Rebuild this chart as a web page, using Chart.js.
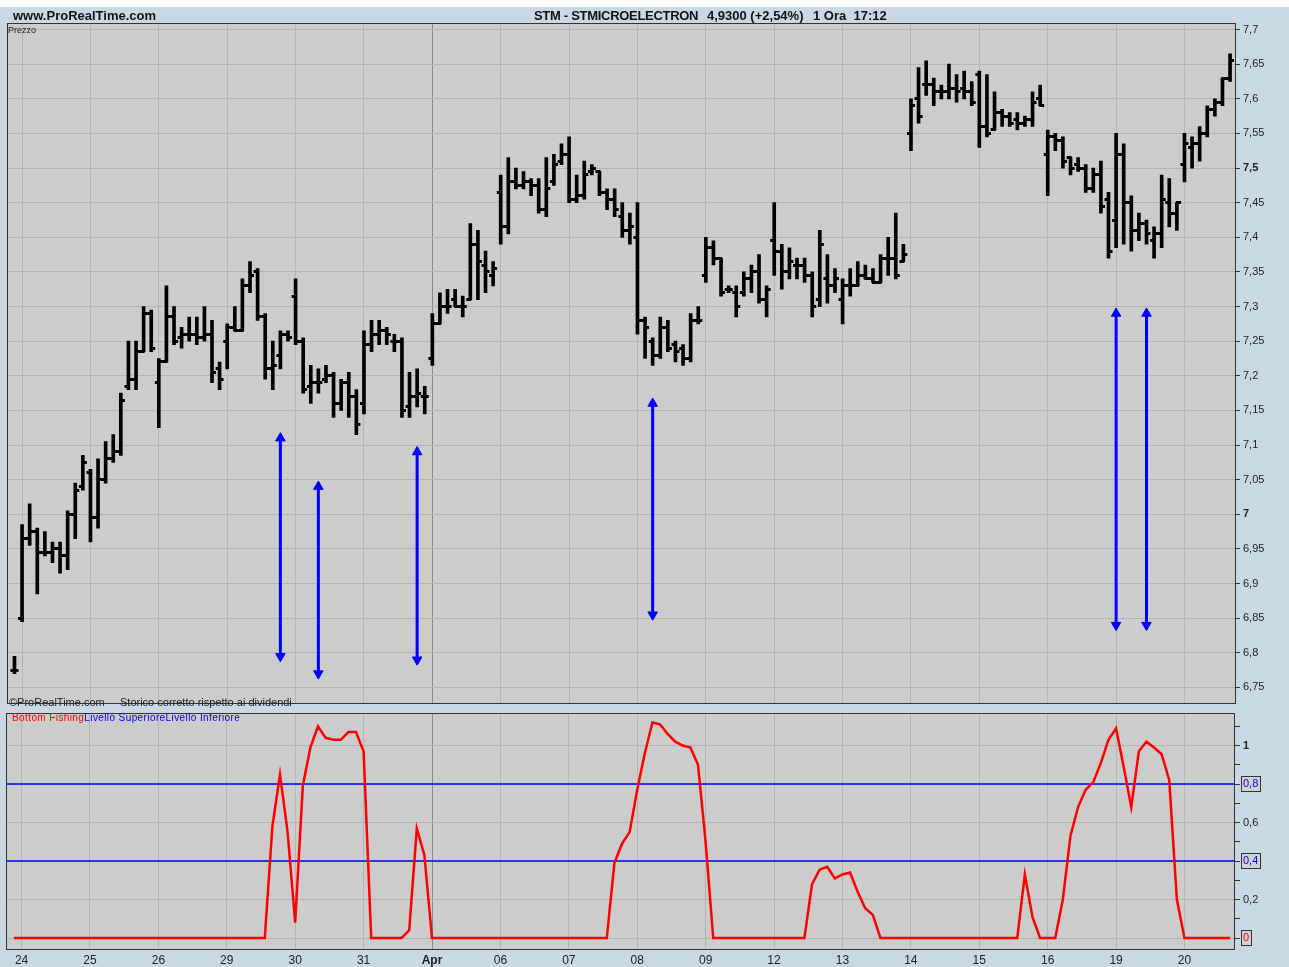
<!DOCTYPE html>
<html>
<head>
<meta charset="utf-8">
<title>STM - STMICROELECTRON 1 Ora</title>
<script src="https://cdn.jsdelivr.net/npm/chart.js@4.4.1/dist/chart.umd.min.js"></script>
<style>
  html, body { margin: 0; padding: 0; background: #c9d9e4; }
  #pagina { position: relative; width: 1289px; height: 967px; overflow: hidden; background: #c9d9e4; font-family: "Liberation Sans", Arial, sans-serif; }
  #striscia { position: absolute; left: 0; top: 0; width: 1289px; height: 7px; background: #ffffff; }
  canvas { position: absolute; left: 0; }
  #prezzo { top: 0; }
  #indicatore { top: 710px; }
  .testo { position: absolute; white-space: nowrap; color: #111; line-height: 1; }
</style>
</head>
<body>
<div id="pagina">
  <div id="striscia"></div>
  <canvas id="prezzo" width="1289" height="710"></canvas>
  <canvas id="indicatore" width="1289" height="257"></canvas>

  <div class="testo" style="left:13px;top:9px;font-size:13px;font-weight:bold">www.ProRealTime.com</div>
  <div class="testo" style="left:534px;top:9px;font-size:13px;font-weight:bold;letter-spacing:-0.3px">STM - STMICROELECTRON</div>
  <div class="testo" style="left:707px;top:9px;font-size:13px;font-weight:bold">4,9300 (+2,54%)</div>
  <div class="testo" style="left:813px;top:9px;font-size:13px;font-weight:bold">1 Ora&nbsp;&nbsp;17:12</div>
  <div class="testo" style="left:8px;top:26px;font-size:9px;color:#222">Prezzo</div>
  <div class="testo" style="left:9px;top:697px;font-size:11px;color:#222">©ProRealTime.com</div>
  <div class="testo" style="left:120px;top:697px;font-size:11px;color:#222">Storico corretto rispetto ai dividendi</div>
  <div class="testo" style="left:12px;top:713px;font-size:10px;letter-spacing:0.4px">
    <span style="color:#ff0000">Bottom Fishing</span><span style="color:#0000ff">Livello Superiore</span><span style="color:#0000ff">Livello Inferiore</span>
  </div>
</div>

<script>
// giornate di contrattazione: etichetta e indice della prima barra oraria
const giorni = ['24', '25', '26', '29', '30', '31', 'Apr', '06', '07', '08', '09', '12', '13', '14', '15', '16', '19', '20'];
const inizioGiorno = [1, 10, 19, 28, 37, 46, 55, 64, 73, 82, 91, 100, 109, 118, 127, 136, 145, 154];

// barre orarie (la prima e' l'ultima ora della seduta del 23)
const apertura = [
  6.775,
  6.85, 6.965, 6.975, 6.945, 6.945, 6.95, 6.94, 7.0, 7.04,
  7.06, 6.995, 7.05, 7.08, 7.09, 7.185, 7.195, 7.235, 7.29,
  7.19, 7.22, 7.285, 7.255, 7.26, 7.26, 7.255, 7.26, 7.21,
  7.25, 7.27, 7.265, 7.33, 7.35, 7.285, 7.21, 7.23, 7.26,
  7.315, 7.25, 7.185, 7.19, 7.195, 7.2, 7.16, 7.19, 7.17,
  7.16, 7.245, 7.26, 7.265, 7.25, 7.25, 7.155, 7.17, 7.17,
  7.225, 7.275, 7.3, 7.31, 7.3, 7.31, 7.39, 7.36, 7.345,
  7.465, 7.415, 7.48, 7.475, 7.48, 7.475, 7.44, 7.48, 7.51,
  7.52, 7.455, 7.46, 7.495, 7.495, 7.465, 7.455, 7.43, 7.41,
  7.4, 7.28, 7.25, 7.23, 7.27, 7.245, 7.24, 7.225, 7.28,
  7.345, 7.385, 7.37, 7.325, 7.32, 7.32, 7.34, 7.35, 7.31,
  7.395, 7.38, 7.35, 7.36, 7.36, 7.345, 7.31, 7.34, 7.33,
  7.31, 7.33, 7.33, 7.345, 7.34, 7.335, 7.37, 7.37, 7.365,
  7.55, 7.6, 7.62, 7.62, 7.61, 7.61, 7.615, 7.615, 7.61,
  7.635, 7.56, 7.555, 7.58, 7.575, 7.57, 7.565, 7.57, 7.6,
  7.52, 7.545, 7.54, 7.515, 7.505, 7.5, 7.47, 7.49, 7.455,
  7.425, 7.52, 7.45, 7.41, 7.42, 7.395, 7.405, 7.45, 7.435,
  7.505, 7.53, 7.535, 7.55, 7.585, 7.595, 7.63
];
const massimo = [
  6.795,
  6.985, 7.015, 6.98, 6.975, 6.96, 6.96, 7.005, 7.045, 7.085,
  7.065, 7.08, 7.105, 7.115, 7.175, 7.25, 7.25, 7.3, 7.295,
  7.225, 7.33, 7.3, 7.27, 7.285, 7.285, 7.3, 7.28, 7.22,
  7.275, 7.3, 7.34, 7.365, 7.355, 7.29, 7.25, 7.265, 7.265,
  7.34, 7.255, 7.215, 7.21, 7.215, 7.205, 7.195, 7.205, 7.18,
  7.265, 7.28, 7.28, 7.27, 7.26, 7.255, 7.205, 7.21, 7.185,
  7.29, 7.32, 7.325, 7.325, 7.315, 7.42, 7.41, 7.38, 7.365,
  7.49, 7.515, 7.5, 7.495, 7.485, 7.485, 7.515, 7.52, 7.535,
  7.545, 7.49, 7.51, 7.505, 7.495, 7.47, 7.47, 7.45, 7.435,
  7.45, 7.285, 7.255, 7.285, 7.28, 7.25, 7.245, 7.29, 7.3,
  7.4, 7.395, 7.37, 7.33, 7.33, 7.35, 7.36, 7.375, 7.33,
  7.45, 7.39, 7.385, 7.37, 7.37, 7.35, 7.41, 7.375, 7.355,
  7.34, 7.355, 7.365, 7.36, 7.355, 7.375, 7.4, 7.435, 7.39,
  7.6, 7.645, 7.655, 7.63, 7.62, 7.65, 7.635, 7.64, 7.625,
  7.64, 7.635, 7.61, 7.585, 7.58, 7.58, 7.575, 7.61, 7.62,
  7.555, 7.55, 7.545, 7.515, 7.515, 7.505, 7.5, 7.51, 7.465,
  7.55, 7.535, 7.46, 7.435, 7.425, 7.415, 7.49, 7.485, 7.45,
  7.55, 7.545, 7.56, 7.59, 7.6, 7.63, 7.665
];
const minimo = [
  6.77,
  6.845, 6.955, 6.885, 6.94, 6.93, 6.915, 6.92, 6.965, 7.035,
  6.96, 6.98, 7.045, 7.075, 7.085, 7.18, 7.18, 7.235, 7.235,
  7.125, 7.22, 7.245, 7.24, 7.25, 7.245, 7.25, 7.19, 7.18,
  7.21, 7.265, 7.265, 7.32, 7.28, 7.195, 7.18, 7.21, 7.25,
  7.245, 7.175, 7.16, 7.175, 7.19, 7.14, 7.15, 7.14, 7.115,
  7.145, 7.235, 7.245, 7.245, 7.235, 7.14, 7.14, 7.155, 7.145,
  7.215, 7.275, 7.29, 7.3, 7.285, 7.31, 7.31, 7.32, 7.33,
  7.39, 7.405, 7.47, 7.47, 7.46, 7.435, 7.43, 7.475, 7.505,
  7.45, 7.45, 7.455, 7.49, 7.46, 7.44, 7.43, 7.4, 7.39,
  7.26, 7.225, 7.215, 7.225, 7.235, 7.22, 7.215, 7.22, 7.275,
  7.335, 7.36, 7.315, 7.32, 7.285, 7.315, 7.32, 7.305, 7.285,
  7.345, 7.325, 7.34, 7.34, 7.335, 7.285, 7.3, 7.305, 7.32,
  7.275, 7.315, 7.33, 7.34, 7.335, 7.335, 7.345, 7.34, 7.365,
  7.525, 7.565, 7.605, 7.59, 7.6, 7.6, 7.595, 7.6, 7.59,
  7.53, 7.545, 7.555, 7.56, 7.56, 7.555, 7.56, 7.56, 7.59,
  7.46, 7.525, 7.5, 7.49, 7.495, 7.465, 7.465, 7.435, 7.37,
  7.385, 7.39, 7.38, 7.395, 7.39, 7.37, 7.385, 7.415, 7.41,
  7.48, 7.5, 7.51, 7.545, 7.575, 7.59, 7.625
];
const chiusura = [
  6.775,
  6.965, 6.975, 6.945, 6.945, 6.95, 6.94, 7.0, 7.035, 7.075,
  6.995, 7.05, 7.08, 7.09, 7.165, 7.195, 7.235, 7.29, 7.24,
  7.22, 7.285, 7.25, 7.26, 7.26, 7.255, 7.26, 7.205, 7.195,
  7.27, 7.265, 7.33, 7.345, 7.285, 7.21, 7.215, 7.26, 7.255,
  7.25, 7.18, 7.19, 7.19, 7.2, 7.16, 7.19, 7.17, 7.13,
  7.245, 7.26, 7.265, 7.26, 7.25, 7.15, 7.17, 7.175, 7.17,
  7.275, 7.3, 7.3, 7.3, 7.3, 7.39, 7.365, 7.35, 7.355,
  7.415, 7.48, 7.475, 7.48, 7.475, 7.44, 7.47, 7.505, 7.52,
  7.455, 7.46, 7.49, 7.5, 7.465, 7.455, 7.44, 7.41, 7.415,
  7.28, 7.27, 7.23, 7.27, 7.24, 7.235, 7.225, 7.28, 7.28,
  7.385, 7.37, 7.32, 7.325, 7.3, 7.34, 7.35, 7.31, 7.325,
  7.38, 7.35, 7.365, 7.36, 7.345, 7.3, 7.39, 7.33, 7.34,
  7.33, 7.33, 7.345, 7.34, 7.335, 7.37, 7.37, 7.345, 7.375,
  7.59, 7.575, 7.62, 7.61, 7.61, 7.615, 7.61, 7.61, 7.595,
  7.56, 7.55, 7.58, 7.575, 7.565, 7.565, 7.57, 7.595, 7.59,
  7.545, 7.54, 7.51, 7.5, 7.5, 7.47, 7.49, 7.445, 7.38,
  7.52, 7.45, 7.41, 7.42, 7.405, 7.405, 7.455, 7.435, 7.45,
  7.535, 7.535, 7.55, 7.585, 7.595, 7.63, 7.655
];

// indicatore Bottom Fishing, un valore per barra
const bottomFishing = [
  0,
  0, 0, 0, 0, 0, 0, 0, 0, 0,
  0, 0, 0, 0, 0, 0, 0, 0, 0,
  0, 0, 0, 0, 0, 0, 0, 0, 0,
  0, 0, 0, 0, 0, 0, 0.58, 0.85, 0.55,
  0.08, 0.79, 0.99, 1.10, 1.04, 1.03, 1.03, 1.07, 1.07,
  0.97, 0, 0, 0, 0, 0, 0.04, 0.57, 0.43,
  0, 0, 0, 0, 0, 0, 0, 0, 0,
  0, 0, 0, 0, 0, 0, 0, 0, 0,
  0, 0, 0, 0, 0, 0, 0.39, 0.49, 0.55,
  0.77, 0.96, 1.12, 1.11, 1.06, 1.02, 1.0, 0.99, 0.9,
  0.5, 0, 0, 0, 0, 0, 0, 0, 0,
  0, 0, 0, 0, 0, 0.28, 0.355, 0.37, 0.31,
  0.33, 0.34, 0.24, 0.155, 0.12, 0, 0, 0, 0,
  0, 0, 0, 0, 0, 0, 0, 0, 0,
  0, 0, 0, 0, 0, 0, 0.33, 0.11, 0,
  0, 0, 0.2, 0.53, 0.68, 0.77, 0.81, 0.91, 1.03,
  1.09, 0.89, 0.68, 0.97, 1.02, 0.99, 0.955, 0.82, 0.2,
  0, 0, 0, 0, 0, 0, 0
];
const livelloSuperiore = 0.8;
const livelloInferiore = 0.4;

// segnali: barra, estremo alto e basso della freccia
const frecciaBarra = [35, 40, 53, 84, 145, 149];
const frecciaAlto = [7.11, 7.04, 7.09, 7.16, 7.29, 7.29];
const frecciaBasso = [6.795, 6.77, 6.79, 6.855, 6.84, 6.84];

const tickPrezzo = [6.75, 6.8, 6.85, 6.9, 6.95, 7.0, 7.05, 7.1, 7.15, 7.2, 7.25, 7.3, 7.35, 7.4, 7.45, 7.5, 7.55, 7.6, 7.65, 7.7];
const tickIndicatore = [0, 0.1, 0.2, 0.3, 0.4, 0.5, 0.6, 0.7, 0.8, 0.9, 1.0, 1.1];

const xMin = -1.05, xMax = 160.65;
const font = '"Liberation Sans", Arial, sans-serif';
const grigliaColore = '#b4b4b4';
Chart.defaults.font.family = font;

function virgola(v) {
  return String(+v.toFixed(2)).replace('.', ',');
}

// tacche di apertura (a sinistra) e chiusura (a destra)
function tacca(lato) {
  const c = document.createElement('canvas');
  c.width = 12;
  c.height = 3;
  const g = c.getContext('2d');
  g.fillStyle = '#000';
  if (lato === 'sx') g.fillRect(2, 0, 5, 3);
  else g.fillRect(5, 0, 5, 3);
  return c;
}

const pannello = {
  id: 'pannello',
  beforeDraw(chart) {
    const { ctx, chartArea: a } = chart;
    ctx.save();
    ctx.fillStyle = '#cccccc';
    ctx.fillRect(a.left, a.top, a.width, a.height);
    ctx.restore();
  },
  afterDraw(chart) {
    const { ctx, chartArea: a } = chart;
    ctx.save();
    ctx.strokeStyle = '#333';
    ctx.lineWidth = 1;
    ctx.strokeRect(Math.round(a.left) + 0.5, Math.round(a.top) + 0.5, Math.round(a.width) - 1, Math.round(a.height) - 1);
    ctx.restore();
  }
};

function assex(mostraEtichette) {
  return {
    type: 'linear',
    min: xMin,
    max: xMax,
    offset: false,
    border: { display: false },
    grid: {
      offset: false,
      drawTicks: false,
      color: ctx => (ctx.tick && ctx.tick.value === 55 ? '#8a8a8a' : grigliaColore)
    },
    ticks: {
      display: mostraEtichette,
      autoSkip: false,
      maxRotation: 0,
      padding: 3,
      color: '#222',
      font: ctx => ({ family: font, size: 12, weight: ctx.tick && ctx.tick.value === 55 ? 'bold' : 'normal' }),
      callback: v => giorni[inizioGiorno.indexOf(v)]
    },
    afterBuildTicks: s => { s.ticks = inizioGiorno.map(v => ({ value: v })); },
    afterFit: s => {
      s.height = mostraEtichette ? 17 : 0;
      s.paddingLeft = 0;
      s.paddingRight = 0;
    }
  };
}

// pannello prezzi: barre OHLC e frecce dei segnali
const frecce = frecciaBarra.map((b, k) => ({
  type: 'line',
  data: [{ x: b, y: frecciaAlto[k] }, { x: b, y: frecciaBasso[k] }],
  borderColor: '#0000ff',
  borderWidth: 3,
  pointStyle: 'triangle',
  pointRadius: 5.5,
  pointRotation: [0, 180],
  pointBackgroundColor: '#0000ff',
  pointBorderColor: '#0000ff',
  pointBorderWidth: 1
}));

new Chart(document.getElementById('prezzo'), {
  type: 'bar',
  data: {
    datasets: [
      ...frecce,
      {
        type: 'line',
        data: apertura.map((v, i) => ({ x: i, y: v })),
        showLine: false,
        pointStyle: tacca('sx'),
        pointRadius: 3
      },
      {
        type: 'line',
        data: chiusura.map((v, i) => ({ x: i, y: v })),
        showLine: false,
        pointStyle: tacca('dx'),
        pointRadius: 3
      },
      {
        type: 'bar',
        data: massimo.map((h, i) => ({ x: i, y: [minimo[i], h] })),
        backgroundColor: '#000',
        borderWidth: 0,
        barThickness: 3,
        grouped: false
      }
    ]
  },
  options: {
    responsive: false,
    animation: false,
    events: [],
    layout: { padding: { left: 6, top: 23, right: 0, bottom: 2 } },
    plugins: { legend: { display: false }, tooltip: { enabled: false } },
    scales: {
      x: assex(false),
      y: {
        position: 'right',
        min: 6.7268,
        max: 7.7095,
        border: { display: false },
        grid: { color: grigliaColore, tickColor: '#333', tickLength: 5 },
        ticks: {
          padding: 3,
          color: '#222',
          autoSkip: false,
          font: ctx => ({ family: font, size: 11, weight: ctx.tick && (ctx.tick.value === 7 || ctx.tick.value === 7.5) ? 'bold' : 'normal' }),
          callback: v => virgola(v)
        },
        afterBuildTicks: s => { s.ticks = tickPrezzo.map(v => ({ value: v })); },
        afterFit: s => { s.width = 54; s.paddingTop = 0; s.paddingBottom = 0; }
      }
    }
  },
  plugins: [pannello]
});

// pannello indicatore
const etichetteRiquadrate = [livelloSuperiore, livelloInferiore, 0];
const riquadri = {
  id: 'riquadri',
  afterDraw(chart) {
    const s = chart.scales.y;
    const ctx = chart.ctx;
    ctx.save();
    ctx.font = '11px ' + font;
    ctx.strokeStyle = '#333';
    ctx.lineWidth = 1;
    etichetteRiquadrate.forEach(v => {
      const w = ctx.measureText(virgola(v)).width;
      const y = Math.round(s.getPixelForValue(v));
      ctx.strokeRect(s.left + 6.5, y - 7.5, Math.round(w) + 4, 15);
    });
    ctx.restore();
  }
};

const dieci = v => Math.round(v * 10);

new Chart(document.getElementById('indicatore'), {
  type: 'line',
  data: {
    datasets: [
      {
        label: 'Bottom Fishing',
        data: bottomFishing.map((v, i) => ({ x: i, y: v })),
        borderColor: '#ff0000',
        borderWidth: 2.5,
        pointRadius: 0,
        tension: 0
      },
      {
        label: 'Livello Superiore',
        data: [{ x: xMin, y: livelloSuperiore }, { x: xMax, y: livelloSuperiore }],
        borderColor: '#0000ff',
        borderWidth: 1.5,
        pointRadius: 0
      },
      {
        label: 'Livello Inferiore',
        data: [{ x: xMin, y: livelloInferiore }, { x: xMax, y: livelloInferiore }],
        borderColor: '#0000ff',
        borderWidth: 1.5,
        pointRadius: 0
      }
    ]
  },
  options: {
    responsive: false,
    animation: false,
    events: [],
    layout: { padding: { left: 6, top: 3, right: 0, bottom: 0 } },
    plugins: { legend: { display: false }, tooltip: { enabled: false } },
    scales: {
      x: assex(true),
      y: {
        position: 'right',
        min: -0.0623,
        max: 1.169,
        border: { display: false },
        grid: {
          color: ctx => (ctx.tick && dieci(ctx.tick.value) % 2 === 0 ? grigliaColore : 'rgba(0,0,0,0)'),
          tickColor: '#333',
          tickLength: 5
        },
        ticks: {
          padding: 3,
          autoSkip: false,
          color: ctx => {
            const k = ctx.tick ? dieci(ctx.tick.value) : -1;
            if (k === 8 || k === 4) return '#0000ff';
            if (k === 0) return '#ff0000';
            return '#222';
          },
          font: ctx => ({ family: font, size: 11, weight: ctx.tick && dieci(ctx.tick.value) === 10 ? 'bold' : 'normal' }),
          showLabelBackdrop: ctx => ctx.tick && [0, 4, 8].includes(dieci(ctx.tick.value)),
          backdropColor: '#d2d2d2',
          backdropPadding: { top: 1, bottom: 1, left: 2, right: 2 },
          callback: v => (dieci(v) % 2 === 0 ? virgola(v) : '')
        },
        afterBuildTicks: s => { s.ticks = tickIndicatore.map(v => ({ value: v })); },
        afterFit: s => { s.width = 54; s.paddingTop = 0; s.paddingBottom = 0; }
      }
    }
  },
  plugins: [pannello, riquadri]
});
</script>
</body>
</html>
